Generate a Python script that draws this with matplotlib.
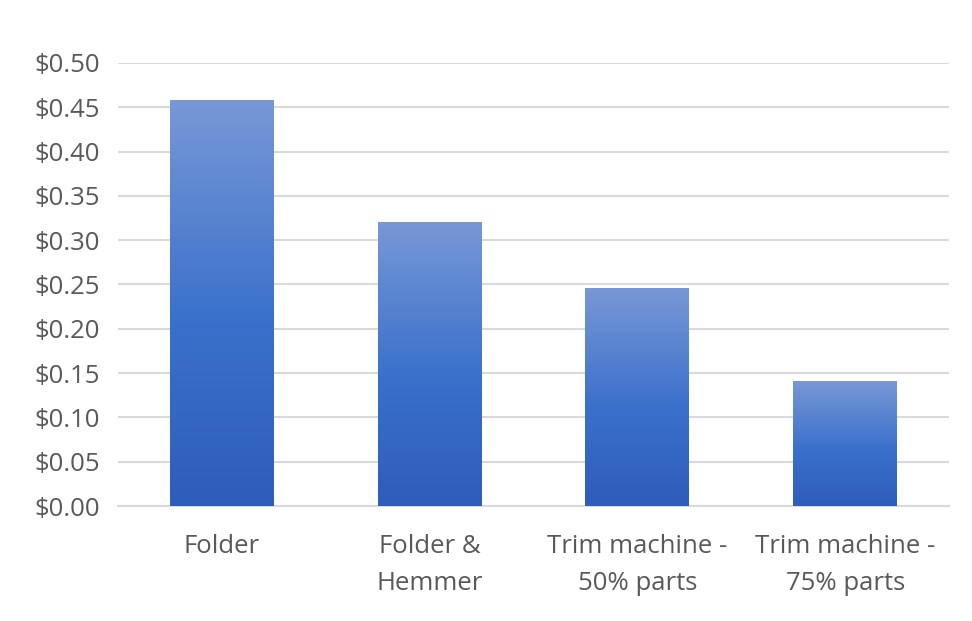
import matplotlib
matplotlib.use("Agg")
import matplotlib.pyplot as plt
import numpy as np
from matplotlib.colors import LinearSegmentedColormap
from matplotlib.ticker import FuncFormatter, MultipleLocator

categories = ["Folder", "Folder &\nHemmer", "Trim machine -\n50% parts", "Trim machine -\n75% parts"]
values = [0.458, 0.321, 0.246, 0.141]

plt.rcParams['font.family'] = ['Open Sans', 'DejaVu Sans']

fig = plt.figure(figsize=(9.72, 6.21), dpi=100)
ax = fig.add_axes([118/972, 1-506/621, (949-118)/972, (506-63)/621])

cmap = LinearSegmentedColormap.from_list("g", [(0.0, "#2E5DBB"), (0.45, "#3A70CB"), (1.0, "#7898D6")])

bars = ax.bar(range(len(values)), values, width=0.5, color="none", edgecolor="none", zorder=3)
grad = np.linspace(0, 1, 256).reshape(-1, 1)
for b in bars:
    x0, y0 = b.get_x(), b.get_y()
    w, h = b.get_width(), b.get_height()
    im = ax.imshow(grad, cmap=cmap, aspect="auto", origin="lower",
                   extent=[x0, x0 + w, y0, y0 + h], zorder=3)
    im.set_clip_path(b)

ax.set_xlim(-0.5, len(values) - 0.5)
ax.set_ylim(0, 0.5)
ax.yaxis.set_major_locator(MultipleLocator(0.05))
ax.yaxis.set_major_formatter(FuncFormatter(lambda v, p: f"${v:.2f}"))
ax.set_xticks(range(len(values)))
ax.set_xticklabels(categories, linespacing=1.6)
ax.grid(axis="y", color="#D9D9D9", linewidth=1.5, zorder=0)
ax.set_axisbelow(True)
for s in ["top", "right", "left"]:
    ax.spines[s].set_visible(False)
ax.spines["bottom"].set_color("#D9D9D9")
ax.spines["bottom"].set_linewidth(1.5)
ax.tick_params(axis="both", length=0, labelsize=18.5, colors="#595959")
ax.tick_params(axis="y", pad=13)
ax.tick_params(axis="x", pad=20.5)

fig.savefig("out.png", dpi=100, facecolor="white")
